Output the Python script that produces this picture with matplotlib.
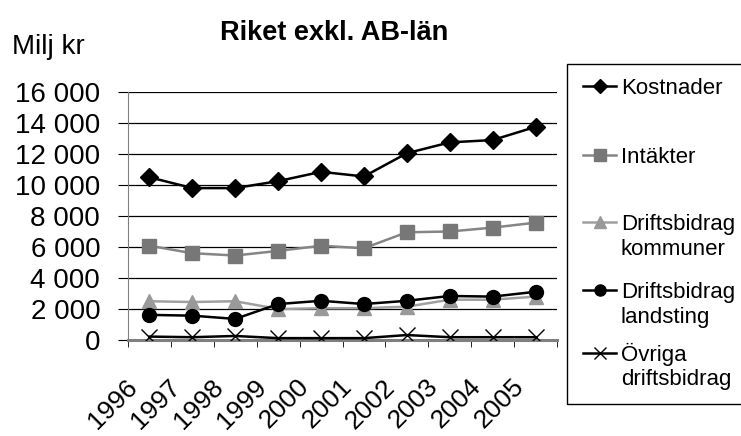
import numpy as np
import matplotlib.pyplot as plt
import matplotlib.transforms as mtransforms
from matplotlib.lines import Line2D
from matplotlib.patches import Rectangle
from matplotlib.ticker import FuncFormatter, FixedLocator

plt.rcParams['font.family'] = ['Liberation Sans', 'DejaVu Sans']

years = ['1996', '1997', '1998', '1999', '2000', '2001', '2002', '2003', '2004', '2005']
kostnader = [10500, 9800, 9800, 10250, 10850, 10550, 12050, 12750, 12900, 13750]
intakter = [6080, 5600, 5450, 5750, 6080, 5920, 6950, 7000, 7250, 7570]
kommuner = [2500, 2450, 2500, 2000, 2050, 2050, 2150, 2600, 2600, 2800]
landsting = [1620, 1570, 1360, 2320, 2530, 2320, 2530, 2840, 2800, 3110]
ovriga = [220, 180, 260, 120, 120, 120, 320, 180, 180, 180]

W, H = 741, 436
fig = plt.figure(figsize=(W/100, H/100), dpi=100)
ax = fig.add_axes([128/W, 1-340/H, (557-128)/W, (340-92)/H])

x = np.arange(len(years))
lw = 1.8
series = [
    (kostnader, ['Kostnader'], dict(color='black', marker='D', ms=9), 5),
    (intakter, ['Intäkter'], dict(color='#858585', marker='s', ms=10, mfc='#777777', mec='#777777'), 4),
    (kommuner, ['Driftsbidrag', 'kommuner'], dict(color='#a0a0a0', marker='^', ms=10, mfc='#999999', mec='#999999'), 3),
    (landsting, ['Driftsbidrag', 'landsting'], dict(color='black', marker='o', ms=10), 4),
    (ovriga, ['Övriga', 'driftsbidrag'], dict(color='black', marker='x', ms=11, mew=1), 5),
]
for vals, lab, st, z in series:
    ax.plot(x, vals, lw=lw, zorder=z, **st)

ax.set_xlim(-0.5, len(years) - 0.5)
ax.set_ylim(0, 16000)
ax.set_yticks(np.arange(0, 16001, 2000))
ax.yaxis.set_major_formatter(FuncFormatter(lambda v, p: f'{int(v):,}'.replace(',', ' ')))
ax.grid(axis='y', color='black', lw=0.9)
ax.set_axisbelow(True)

ax.set_xticks(x)
ax.set_xticklabels(years, rotation=45, ha='right', rotation_mode='anchor', fontsize=19)
ax.xaxis.set_minor_locator(FixedLocator(np.arange(-0.5, len(years), 1.0)))
ax.tick_params(axis='x', which='major', length=0, pad=22)
ax.tick_params(axis='x', which='minor', length=5, direction='out', color='black')
ax.tick_params(axis='y', length=7, direction='out', labelsize=20, pad=13)

shift = mtransforms.ScaledTranslation(-24/100, -4/100, fig.dpi_scale_trans)
for lab in ax.get_xticklabels():
    lab.set_transform(lab.get_transform() + shift)

for s in ['top', 'right']:
    ax.spines[s].set_visible(False)
ax.spines['left'].set_color('#808080')
ax.spines['bottom'].set_color('#808080')
ax.spines['bottom'].set_linewidth(2.2)

fig.text(12/W, 1-47/H, 'Milj kr', fontsize=20, va='center', ha='left')
fig.text(334/W, 1-33/H, 'Riket exkl. AB-län', fontsize=19.5, fontweight='bold', ha='center', va='center')

# legend drawn by hand so the markers sit on the first text line, like Excel
fig.patches.append(Rectangle((567/W, 1-404/H), 180/W, 340/H, transform=fig.transFigure,
                             fill=False, edgecolor='black', lw=1))
entry_y = [86, 155, 222, 290, 353]
for (vals, lab, st, z), ey in zip(series, entry_y):
    fy = 1 - ey/H
    st_leg = dict(st)
    st_leg['ms'] = st['ms'] * 0.8
    fig.add_artist(Line2D([583/W, 599.5/W, 616/W], [fy, fy, fy], transform=fig.transFigure,
                          lw=lw, markevery=[1], **st_leg))
    for i, line in enumerate(lab):
        fig.text(621/W, 1-(ey + 8 + i*24.5)/H, line, fontsize=16, va='baseline', ha='left')

fig.savefig('out.png', dpi=100)
